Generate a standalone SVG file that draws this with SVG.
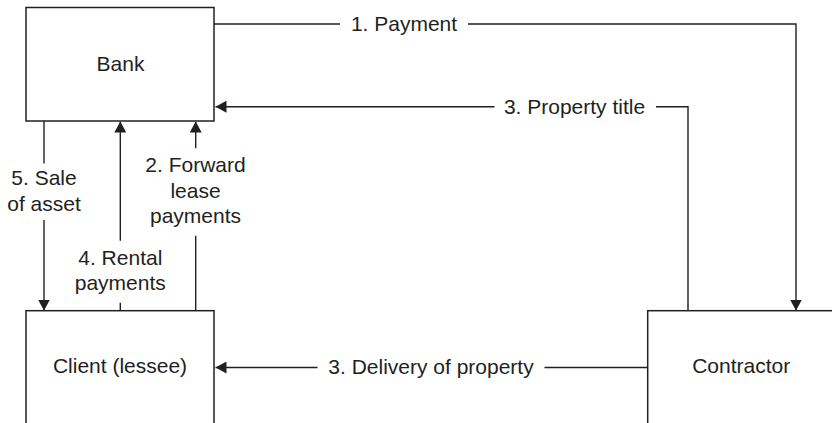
<svg xmlns="http://www.w3.org/2000/svg" width="832" height="423" viewBox="0 0 832 423">
  <style>
    .box { fill: #ffffff; stroke: #231f20; stroke-width: 1.5; }
    .label { font-family: "Liberation Sans", Arial, Helvetica, sans-serif; font-size: 21px; fill: #231f20; text-anchor: middle; }
    .wire { fill: none; stroke: #231f20; stroke-width: 1.4; }
    .wire-arrow { fill: none; stroke: #231f20; stroke-width: 1.4; marker-end: url(#arrow); }
  </style>
  <defs>
    <marker id="arrow" viewBox="0 0 11 12" refX="11" refY="6" markerWidth="11" markerHeight="12" markerUnits="userSpaceOnUse" orient="auto">
      <path d="M0,0 L11,6 L0,12 z" fill="#231f20"/>
    </marker>
  </defs>
  <rect width="832" height="423" fill="#ffffff"/>

  <!-- Parties -->
  <g id="bank">
    <rect class="box" x="26" y="7.5" width="188" height="113.5"/>
    <text class="label" x="120.5" y="71">Bank</text>
  </g>
  <g id="client">
    <rect class="box" x="26" y="310.7" width="188" height="130"/>
    <text class="label" x="120" y="372.7">Client (lessee)</text>
  </g>
  <g id="contractor">
    <rect class="box" x="647.7" y="310.7" width="200" height="130"/>
    <text class="label" x="741.2" y="372.7">Contractor</text>
  </g>

  <!-- Flows between parties -->
  <g id="connectors">
    <!-- 1. Payment: bank to contractor -->
    <path class="wire" d="M214,24 H340"/>
    <path class="wire-arrow" d="M468,24 H796 V310.5"/>
    <text class="label" x="404" y="31">1. Payment</text>

    <!-- 3. Property title: contractor to bank -->
    <path class="wire" d="M688,310.7 V106.7 H656"/>
    <path class="wire-arrow" d="M494.5,106.7 H215.5"/>
    <text class="label" x="574.5" y="113.5">3. Property title</text>

    <!-- 3. Delivery of property: contractor to client -->
    <path class="wire" d="M647.7,367.5 H544.5"/>
    <path class="wire-arrow" d="M317.5,367.5 H215.5"/>
    <text class="label" x="431" y="374">3. Delivery of property</text>

    <!-- 5. Sale of asset: bank to client -->
    <path class="wire" d="M44,121 V163.5"/>
    <path class="wire-arrow" d="M44,220 V310.5"/>
    <text class="label" x="44" y="185">5. Sale</text>
    <text class="label" x="44" y="210.7">of asset</text>

    <!-- 4. Rental payments: client to bank -->
    <path class="wire" d="M120.3,310.7 V302.7"/>
    <path class="wire-arrow" d="M120.3,240.7 V121.5"/>
    <text class="label" x="120.3" y="265">4. Rental</text>
    <text class="label" x="120.3" y="289.5">payments</text>

    <!-- 2. Forward lease payments: client to bank -->
    <path class="wire" d="M195.7,310.7 V235.7"/>
    <path class="wire-arrow" d="M195.7,148.3 V121.5"/>
    <text class="label" x="195.5" y="171.7">2. Forward</text>
    <text class="label" x="195.5" y="197.5">lease</text>
    <text class="label" x="195.5" y="222.7">payments</text>
  </g>
</svg>
